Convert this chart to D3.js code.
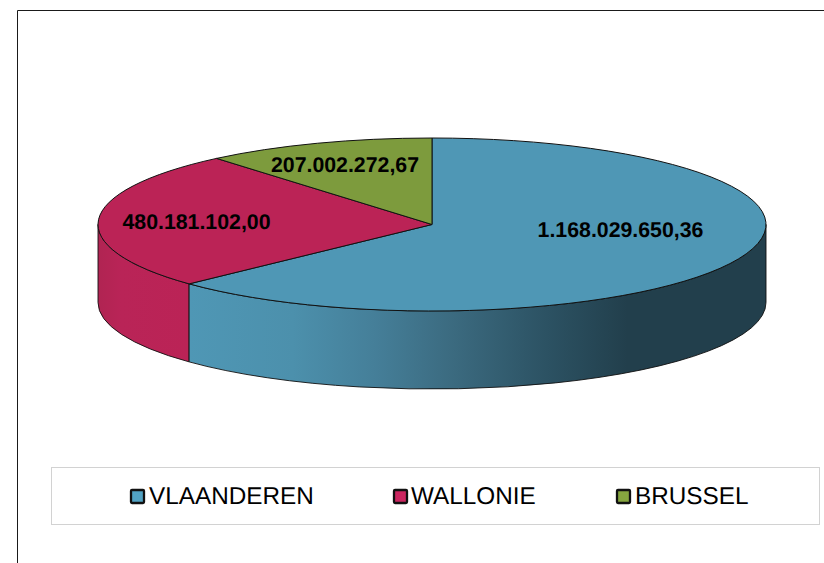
<!DOCTYPE html>
<html><head><meta charset="utf-8">
<script src="https://cdn.jsdelivr.net/npm/d3@7/dist/d3.min.js"></script>
<style>html,body{margin:0;padding:0;background:#fff}svg{display:block}text{font-family:"Liberation Sans",Arial,sans-serif;fill:#000;text-rendering:geometricPrecision}</style>
</head><body><svg id="c" width="824" height="563"></svg>
<script>
const categories = ["VLAANDEREN", "WALLONIE", "BRUSSEL"];
const values = [1168029650.36, 480181102.00, 207002272.67];
const valueLabels = ["1.168.029.650,36", "480.181.102,00", "207.002.272,67"];
const topColors = ["#4f97b5", "#bb2356", "#7d9b3d"];
const legendColors = ["#52a3c4", "#cb2660", "#86a63f"];
const labelCenters = [[620.5, 230], [196.5, 222], [345, 165]];
const legendX = [130, 393, 616];
const legendTextX = [149, 411, 635];

const cx = 432, cy = 224.5, rx = 334, ry = 86.5, depth = 78;
const svg = d3.select("#c");
const defs = svg.append("defs");

const g1 = defs.append("linearGradient").attr("id", "wallBlue")
  .attr("gradientUnits", "userSpaceOnUse").attr("x1", 189).attr("x2", 766).attr("y1", 0).attr("y2", 0);
[[0, "#4f97b5"], [0.18, "#4c90ac"], [0.32, "#457f99"], [0.46, "#3b6a7f"], [0.62, "#2c5263"], [0.76, "#223f4c"], [1, "#223f4c"]]
  .forEach(([o, c]) => g1.append("stop").attr("offset", o).attr("stop-color", c));
const g2 = defs.append("linearGradient").attr("id", "wallRed")
  .attr("gradientUnits", "userSpaceOnUse").attr("x1", 98).attr("x2", 189).attr("y1", 0).attr("y2", 0);
[[0, "#b02452"], [0.25, "#b92457"], [1, "#bb2356"]]
  .forEach(([o, c]) => g2.append("stop").attr("offset", o).attr("stop-color", c));

// frame
svg.append("path").attr("d", "M17.5 563V10.5H824").attr("fill", "none").attr("stroke", "#1a1a1a").attr("stroke-width", 1);

const arcs = d3.pie().sort(null).value(d => d)(values);
const pt = a => [cx + rx * Math.sin(a), cy - ry * Math.cos(a)];

function wall(a0, a1) {
  const [x0, y0] = pt(a0), [x1, y1] = pt(a1);
  return `M${x0} ${y0}A${rx} ${ry} 0 0 1 ${x1} ${y1}L${x1} ${y1 + depth}A${rx} ${ry} 0 0 0 ${x0} ${y0 + depth}Z`;
}
const H = Math.PI / 2, Th = 3 * Math.PI / 2;
// visible walls: front half only (90deg to 270deg clockwise from top)
svg.append("path").attr("d", wall(Math.max(arcs[1].startAngle, H), Math.min(arcs[1].endAngle, Th)))
  .attr("fill", "url(#wallRed)").attr("stroke", "#111").attr("stroke-width", 0.9);
svg.append("path").attr("d", wall(Math.max(arcs[0].startAngle, H), Math.min(arcs[0].endAngle, Th)))
  .attr("fill", "url(#wallBlue)").attr("stroke", "#111").attr("stroke-width", 0.9);

const arcGen = d3.arc().innerRadius(0).outerRadius(rx);
svg.append("g").attr("transform", `translate(${cx},${cy}) scale(1,${ry / rx})`)
  .selectAll("path").data(arcs).join("path")
  .attr("d", arcGen).attr("fill", (d, i) => topColors[i])
  .attr("stroke", "#111").attr("stroke-width", 1).attr("vector-effect", "non-scaling-stroke");

svg.append("g").selectAll("text").data(valueLabels).join("text")
  .attr("x", (d, i) => labelCenters[i][0]).attr("y", (d, i) => labelCenters[i][1])
  .attr("dy", "0.35em").attr("text-anchor", "middle")
  .attr("font-size", 21.3).attr("font-weight", "bold").text(d => d);

// legend
svg.append("rect").attr("x", 51.5).attr("y", 467.5).attr("width", 768).attr("height", 57)
  .attr("fill", "#fff").attr("stroke", "#d2d2d2").attr("stroke-width", 1);
const leg = svg.append("g").selectAll("g").data(categories).join("g");
leg.append("rect").attr("x", (d, i) => legendX[i] + 1).attr("y", 490).attr("width", 13).attr("height", 13).attr("rx", 1)
  .attr("fill", (d, i) => legendColors[i]).attr("stroke", "#111").attr("stroke-width", 2.3);
leg.append("text").attr("x", (d, i) => legendTextX[i]).attr("y", 504).attr("font-size", 24.3).text(d => d);
</script></body></html>
